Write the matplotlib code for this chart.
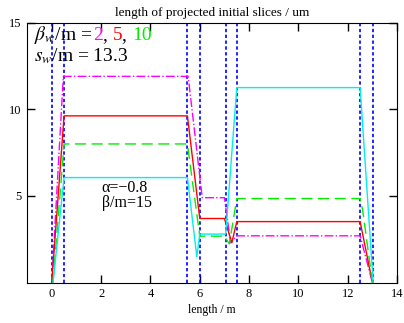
import matplotlib
matplotlib.use("Agg")
import matplotlib.pyplot as plt
from matplotlib.offsetbox import TextArea, HPacker, VPacker, AnchoredOffsetbox

plt.rcParams['font.family'] = ['Liberation Serif', 'DejaVu Serif']
plt.rcParams['mathtext.fontset'] = 'stix'

# curves (length / m, slice length / um)
x_b2 = [0.0, 0.47, 5.53, 6.1, 7.0, 7.25, 7.5, 12.5, 13.0]
y_b2 = [0.0, 11.9, 11.9, 4.9, 4.9, 2.3, 2.7, 2.7, 0.0]

x_b5 = [0.0, 0.5, 5.5, 6.0, 7.0, 7.3, 7.5, 12.5, 13.0]
y_b5 = [0.0, 9.62, 9.62, 3.7, 3.7, 2.3, 3.52, 3.52, 0.0]

x_b10 = [0.05, 0.5, 5.5, 6.0, 7.0, 7.2, 7.5, 12.5, 12.6, 13.0]
y_b10 = [0.0, 8.0, 8.0, 2.68, 2.68, 2.23, 4.85, 4.85, 4.2, 0.0]

x_b15 = [0.05, 0.5, 5.5, 5.88, 6.0, 7.05, 7.5, 12.5, 13.03]
y_b15 = [0.0, 6.06, 6.06, 1.5, 2.8, 2.8, 11.25, 11.25, 0.0]

# element edges (blue dotted)
edges = [0.0, 0.5, 5.5, 6.0, 7.05, 7.5, 12.5, 13.03]

fig = plt.figure(figsize=(4.04, 3.23), dpi=100)
ax = fig.add_axes([0.067, 0.125, 0.916, 0.805])

for e in edges:
    ax.axvline(e, color='#0000ff', lw=1.2, dashes=(2, 1.5))

ax.plot(x_b2, y_b2, color='#ff00ff', lw=1.0, ls='-.')
ax.plot(x_b5, y_b5, color='#ff0000', lw=1.0, ls='-')
ax.plot(x_b10, y_b10, color='#00ee00', lw=1.0, dashes=(8, 4))
ax.plot(x_b15, y_b15, color='#00eeee', lw=1.0, ls='-')

ax.set_xlim(-1, 14)
ax.set_ylim(0, 15)
ax.set_xticks(range(0, 15, 2))
ax.set_yticks([5, 10, 15])
ax.tick_params(direction='in', top=True, right=True, length=6, width=1,
               labelsize=9, pad=4)
ax.set_title('length of projected initial slices / um', fontsize=9.5, pad=5)
ax.set_xlabel('length / m', fontsize=8.5, labelpad=3)

# parameter legend in coloured text
fs = 14
line1 = HPacker(children=[
    TextArea(r'$\beta_w$/m = ', textprops=dict(color='k', size=fs)),
    TextArea('2', textprops=dict(color='#ff00ff', size=fs)),
    TextArea(', ', textprops=dict(color='k', size=fs)),
    TextArea('5', textprops=dict(color='#ff0000', size=fs)),
    TextArea(', ', textprops=dict(color='k', size=fs)),
    TextArea('10', textprops=dict(color='#00ee00', size=fs)),
], pad=0, sep=0, align='baseline')
line2 = TextArea(r'$s_w$/m = 13.3', textprops=dict(color='k', size=fs))
box = AnchoredOffsetbox(loc='upper left',
                        child=VPacker(children=[line1, line2], pad=0, sep=0, align='left'),
                        pad=0, borderpad=0, frameon=False,
                        bbox_to_anchor=(0.019, 0.995), bbox_transform=ax.transAxes)
ax.add_artist(box)

ax.text(2.03, 5.9, 'α=−0.8\nβ/m=15', fontsize=11.5, va='top', ha='left',
        linespacing=0.85)

fig.savefig('out.png', dpi=100)
